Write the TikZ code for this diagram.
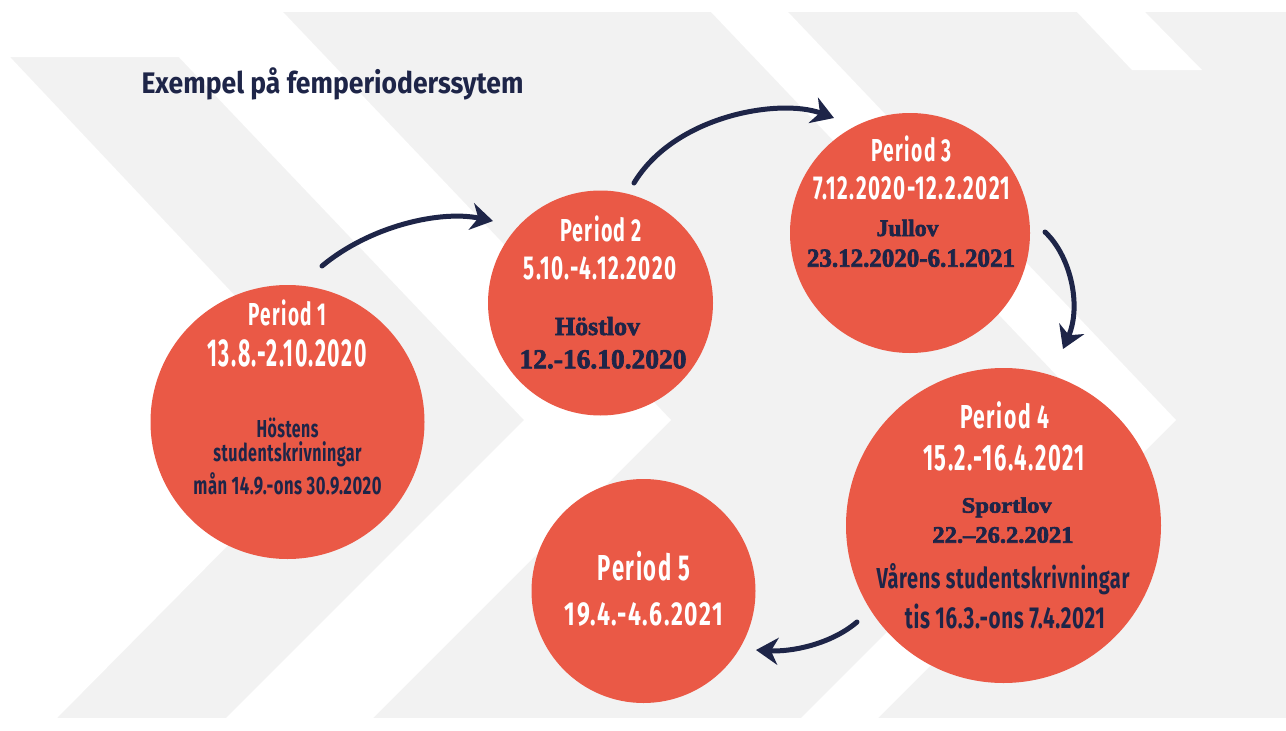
\documentclass[tikz,border=0pt]{standalone}
\usepackage{fontspec}
\usepackage{graphicx}
\usetikzlibrary{arrows.meta}
\newfontfamily\fs{Fira Sans}
\newfontfamily\fsw{Fira Sans}[LetterSpace=7]
\newfontfamily\fsn{Fira Sans}[LetterSpace=3]
\newfontfamily\fser{Liberation Serif}[BoldFeatures={FakeBold=2.5}]
\definecolor{orng}{RGB}{234,89,70}
\definecolor{navy}{RGB}{30,37,72}
\definecolor{bgg}{RGB}{242,242,242}
\newcommand\fitt[3]{\resizebox{#1pt}{#2pt}{\smash{#3}\vphantom{H}}}
\begin{document}
\begin{tikzpicture}[x=1pt,y=-1pt,
  period/.style={circle, fill=orng, draw=none, inner sep=0pt},
  lbl/.style={anchor=base, inner sep=0pt, outer sep=0pt},
  wl/.style={lbl, text=white, font=\fsw\bfseries},
  tl/.style={lbl, text=navy, font=\fs\bfseries},
  nl/.style={lbl, text=navy, font=\fsn\bfseries},
  sl/.style={lbl, text=navy, font=\fser\bfseries},
  flow/.style={draw=navy, line width=5pt, line cap=round,
    -{Stealth[length=22pt,width=27pt,inset=7pt]}}]
\useasboundingbox (0,0) rectangle (1286,731);
% background
\fill[white] (0,0) rectangle (1286,731);
\begin{scope}
\clip (0,12) rectangle (1286,718);
\fill[bgg] (0,12) rectangle (1286,718);
\fill[white] (0,12) -- (283,12) -- (283,57) -- (10,57) -- (352,420) -- (57,718) -- (0,718) -- cycle;
\fill[white] (136,12) -- (283,12) -- (671,420) -- (373,718) -- (226,718) -- (524,420) -- cycle;
\fill[white] (711,12) -- (788,12) -- (1176,420) -- (878,718) -- (801,718) -- (1099,420) -- cycle;
\fill[white] (1077,12) -- (1145,12) -- (1202,70) -- (1132,70) -- cycle;
\end{scope}
% title
\node[tl] (title) at (332.5,93.3) {\fitt{382}{20.6}{Exempel på femperioderssytem}};
% circles
\node[period, minimum size=274pt] (p1) at (287.5,422) {};
\node[period, minimum size=225pt] (p2) at (600.5,303) {};
\node[period, minimum size=240pt] (p3) at (910,233) {};
\node[period, minimum size=315pt] (p4) at (1003.5,525.5) {};
\node[period, minimum size=224pt] (p5) at (643.5,591) {};
% period 1
\node[wl] (p1a) at (287.5,325) {\fitt{78}{22}{Period 1}};
\node[wl] (p1b) at (287,366) {\fitt{159}{27}{13.8.-2.10.2020}};
\node[nl] (p1c) at (287.5,437) {\fitt{62}{17}{Höstens}};
\node[nl] (p1d) at (287.5,461) {\fitt{148}{17}{studentskrivningar}};
\node[nl] (p1e) at (287.5,494) {\fitt{188}{17.5}{mån 14.9.-ons 30.9.2020}};
% period 2
\node[wl] (p2a) at (601,241.7) {\fitt{82}{22}{Period 2}};
\node[wl] (p2b) at (600,279.3) {\fitt{153}{23}{5.10.-4.12.2020}};
\node[sl] (p2c) at (597.5,335) {\fitt{85}{17}{Höstlov}};
\node[sl] (p2d) at (603,368.3) {\fitt{167}{18}{12.-16.10.2020}};
% period 3
\node[wl] (p3a) at (911.7,161) {\fitt{80}{22}{Period 3}};
\node[wl] (p3b) at (911.7,199.3) {\fitt{197}{23}{7.12.2020-12.2.2021}};
\node[sl] (p3c) at (907.5,236) {\fitt{62}{15.5}{Jullov}};
\node[sl] (p3d) at (911,266.7) {\fitt{208}{17}{23.12.2020-6.1.2021}};
% period 4
\node[wl] (p4a) at (1004.7,428.3) {\fitt{89}{23}{Period 4}};
\node[wl] (p4b) at (1004,470.7) {\fitt{162}{25.5}{15.2.-16.4.2021}};
\node[sl] (p4c) at (1006.7,512.7) {\fitt{90}{14.5}{Sportlov}};
\node[sl] (p4d) at (1003,542.7) {\fitt{141}{15.5}{22.–26.2.2021}};
\node[nl] (p4e) at (1003,588.3) {\fitt{253}{20}{Vårens studentskrivningar}};
\node[nl] (p4f) at (1005,628.3) {\fitt{200}{21}{tis 16.3.-ons 7.4.2021}};
% period 5
\node[wl] (p5a) at (644,580) {\fitt{92}{25}{Period 5}};
\node[wl] (p5b) at (644,625) {\fitt{158}{23}{19.4.-4.6.2021}};
% arrows
\coordinate (a1s) at (322,266); \coordinate (a1e) at (493,221);
\coordinate (a2s) at (634,183); \coordinate (a2e) at (834,118);
\coordinate (a3s) at (1045,232); \coordinate (a3e) at (1063,349);
\coordinate (a4s) at (857,622); \coordinate (a4e) at (756,650);
\draw[flow] (a1s) .. controls (370,226) and (440,210) .. (a1e);
\draw[flow] (a2s) .. controls (675,115) and (780,98) .. (a2e);
\draw[flow] (a3s) .. controls (1070,255) and (1082,305) .. (a3e);
\draw[flow] (a4s) .. controls (830,645) and (790,652) .. (a4e);
\end{tikzpicture}
\end{document}
